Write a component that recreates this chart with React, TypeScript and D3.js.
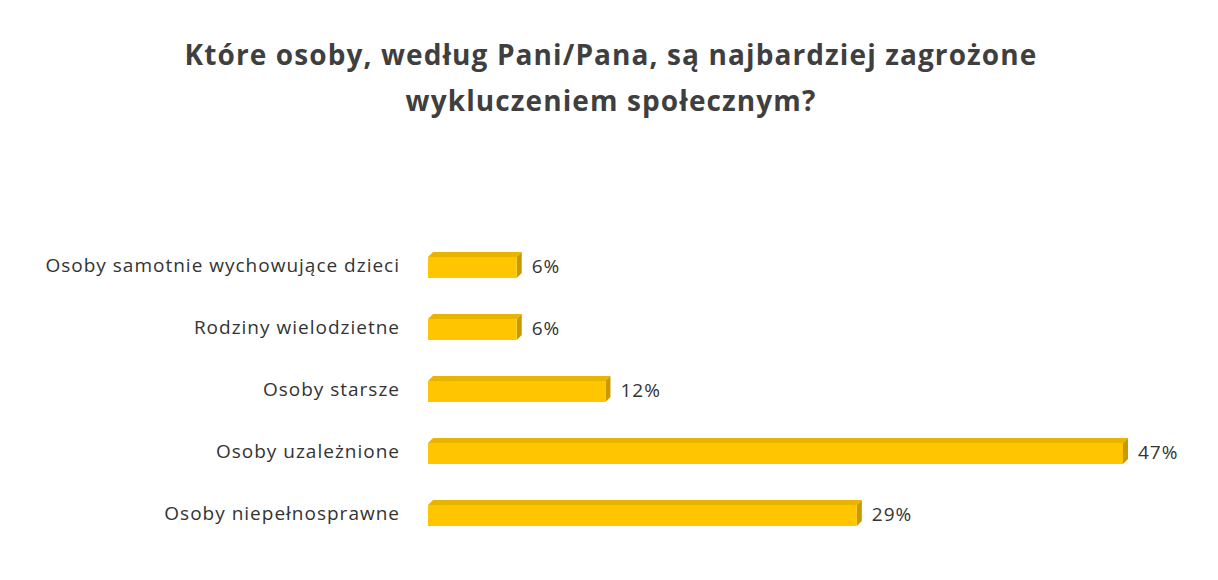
import * as d3 from "d3";
import { useEffect } from "react";

const categories = [
    "Osoby samotnie wychowujące dzieci",
    "Rodziny wielodzietne",
    "Osoby starsze",
    "Osoby uzależnione",
    "Osoby niepełnosprawne",
];
const values = [6, 6, 12, 47, 29];
const titleLines = [
    "Które osoby, według Pani/Pana, są najbardziej zagrożone",
    "wykluczeniem społecznym?",
];

const FONT = "'Open Sans', 'DejaVu Sans', sans-serif";

export default function App() {
    useEffect(() => {
        document.body.style.margin = "0";
    }, []);

    const width = 1218;
    const height = 580;
    const left = 428;
    const depth = 5; // 3d offset

    const x = d3.scaleLinear().domain([0, 47]).range([0, 695]);
    const y = d3.scaleBand<string>()
        .domain(categories)
        .range([234, 544])
        .paddingInner(0.58)
        .paddingOuter(0.29);

    const bw = y.bandwidth();

    return (
        <svg width={width} height={height} style={{ display: "block", background: "#fff" }}>
            {titleLines.map((t, i) => (
                <text key={i} x={611} y={65 + i * 46} textAnchor="middle"
                    fontFamily={FONT} fontWeight={700} fontSize={28} letterSpacing={1.1}
                    fill="#3f3f3f">{t}</text>
            ))}
            {categories.map((c, i) => {
                const y0 = y(c)!;
                const w = x(values[i]);
                const front = `M${left},${y0 + depth} h${w} v${bw - depth} h${-w} Z`;
                const top = `M${left},${y0 + depth} l${depth},${-depth} h${w} l${-depth},${depth} Z`;
                const side = `M${left + w},${y0 + depth} l${depth},${-depth} v${bw - depth} l${-depth},${depth} Z`;
                return (
                    <g key={c}>
                        <path d={top} fill="#e8b400" />
                        <path d={side} fill="#c99a00" />
                        <path d={front} fill="#ffc600" />
                        <text x={400} y={y0 + bw / 2 + 7} textAnchor="end"
                            fontFamily={FONT} fontSize={19} letterSpacing={1} fill="#333">{c}</text>
                        <text x={left + w + depth + 10} y={y0 + bw / 2 + 8} textAnchor="start"
                            fontFamily={FONT} fontSize={19} letterSpacing={1} fill="#333">{values[i]}%</text>
                    </g>
                );
            })}
        </svg>
    );
}
